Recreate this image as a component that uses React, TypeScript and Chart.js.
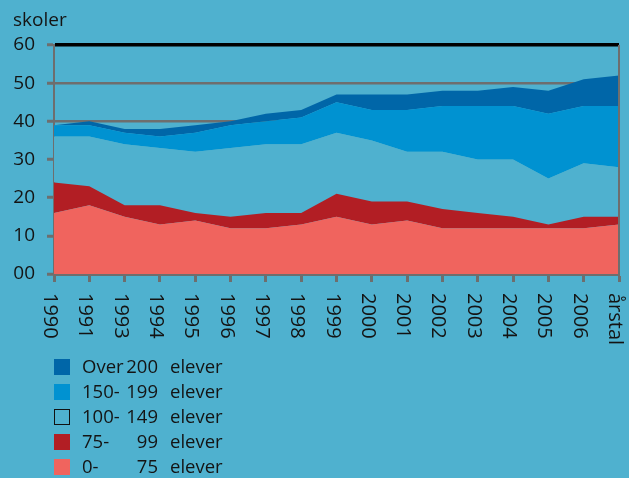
import React, { useEffect, useRef } from 'react';
import { Chart, registerables } from 'chart.js';

Chart.register(...registerables);

// ---- data ----
const categories = ['1990', '1991', '1993', '1994', '1995', '1996', '1997', '1998', '1999', '2000', '2001', '2002', '2003', '2004', '2005', '2006', 'årstal'];
const s0to75 = [16, 18, 15, 13, 14, 12, 12, 13, 15, 13, 14, 12, 12, 12, 12, 12, 13];
const s75to99 = [8, 5, 3, 5, 2, 3, 4, 3, 6, 6, 5, 5, 4, 3, 1, 3, 2];
const s100to149 = [12, 13, 16, 15, 16, 18, 18, 18, 16, 16, 13, 15, 14, 15, 12, 14, 13];
const s150to199 = [3, 3, 3, 3, 5, 6, 6, 7, 8, 8, 11, 12, 14, 14, 17, 15, 16];
const sOver200 = [0, 1, 1, 2, 2, 1, 2, 2, 2, 4, 4, 4, 4, 5, 6, 7, 8];
const yTickLabels: Record<number, string> = { 0: '00', 10: '10', 20: '20', 30: '30', 40: '40', 50: '50', 60: '60' };
const yAxisTitle = 'skoler';

const legendFrom = ['Over', '150-', '100-', '75-', '0-'];
const legendTo = ['200', '199', '149', '99', '75'];
const legendUnit = 'elever';

// ---- styles ----
const BG = '#4fb1cf';
const C_SALMON = '#f0645e';
const C_RED = '#b21e24';
const C_MID = '#0092d1';
const C_DARK = '#0066a8';
const GRAY = '#6e6e6e';
const TEXT = '#141414';
const FONT = '"Open Sans", "Noto Sans", sans-serif';

const legendColors = [C_DARK, C_MID, 'transparent', C_RED, C_SALMON];

export default function App() {
  const canvasRef = useRef<HTMLCanvasElement | null>(null);

  useEffect(() => {
    const canvas = canvasRef.current;
    if (!canvas) return;

    const xLabelPlugin = {
      id: 'xLabelPlugin',
      afterDatasetsDraw(chart: any) {
        const ctx = chart.ctx;
        const area = chart.chartArea;
        // right frame line on top of fills
        ctx.save();
        ctx.strokeStyle = GRAY;
        ctx.lineWidth = 2;
        ctx.beginPath();
        ctx.moveTo(area.right, area.top);
        ctx.lineTo(area.right, area.bottom);
        ctx.stroke();
        ctx.restore();
      },
      afterDraw(chart: any) {
        const ctx = chart.ctx;
        const xs = chart.scales.x;
        const labels = chart.data.labels as string[];
        ctx.save();
        ctx.fillStyle = TEXT;
        ctx.font = '20px ' + FONT;
        ctx.textAlign = 'left';
        ctx.textBaseline = 'alphabetic';
        labels.forEach((lab, i) => {
          const x = xs.getPixelForValue(i);
          ctx.save();
          ctx.translate(x, chart.chartArea.bottom + 19);
          ctx.rotate(Math.PI / 2);
          ctx.fillText(lab, 0, 10);
          ctx.restore();
        });
        ctx.restore();
      },
    };

    const chart = new Chart(canvas, {
      type: 'line',
      data: {
        labels: categories,
        datasets: [
          { label: '0- 75 elever', data: s0to75, backgroundColor: C_SALMON, fill: 'origin' },
          { label: '75- 99 elever', data: s75to99, backgroundColor: C_RED, fill: '-1' },
          { label: '100- 149 elever', data: s100to149, backgroundColor: BG, fill: '-1' },
          { label: '150- 199 elever', data: s150to199, backgroundColor: C_MID, fill: '-1' },
          { label: 'Over 200 elever', data: sOver200, backgroundColor: C_DARK, fill: '-1' },
        ].map((d) => ({ ...d, borderWidth: 0, borderColor: 'transparent', pointRadius: 0, tension: 0 })),
      },
      options: {
        animation: false,
        responsive: false,
        maintainAspectRatio: false,
        layout: { padding: { top: 45, left: 0, right: 10, bottom: 196 } },
        plugins: { legend: { display: false }, tooltip: { enabled: false } },
        scales: {
          x: {
            type: 'category',
            offset: false,
            grid: {
              drawOnChartArea: false,
              drawTicks: true,
              tickLength: 8,
              tickWidth: 3,
              tickColor: GRAY,
            },
            border: { display: true, color: GRAY, width: 3 },
            ticks: { display: false },
            afterFit: (scale: any) => {
              scale.height = 8;
            },
          },
          y: {
            stacked: true,
            min: 0,
            max: 60,
            grid: {
              color: (ctx: any) => {
                const v = ctx.tick && ctx.tick.value;
                if (v === 60) return '#000000';
                if (v === 40 || v === 50) return GRAY;
                return 'rgba(0,0,0,0)';
              },
              lineWidth: (ctx: any) => {
                const v = ctx.tick && ctx.tick.value;
                return v === 60 ? 3.5 : 2.5;
              },
              tickColor: GRAY,
              tickLength: 7,
              tickWidth: 3,
            },
            border: { display: true, color: GRAY, width: 2 },
            ticks: {
              stepSize: 10,
              padding: 12,
              color: TEXT,
              font: { family: FONT, size: 19 },
              callback: (v: any) => yTickLabels[Number(v)] ?? String(v),
            },
            afterFit: (scale: any) => {
              scale.width = 54;
            },
          },
        },
      },
      plugins: [xLabelPlugin],
    });

    return () => chart.destroy();
  }, []);

  const legendRowTop = (i: number) => 353 + i * 25;

  return (
    <div
      style={{
        position: 'fixed',
        left: 0,
        top: 0,
        width: 629,
        height: 478,
        background: BG,
        overflow: 'hidden',
        fontFamily: FONT,
        color: TEXT,
      }}
    >
      <canvas ref={canvasRef} width={629} height={478} style={{ position: 'absolute', left: 0, top: 0, width: 629, height: 478 }} />
      <div
        style={{
          position: 'absolute',
          left: 13,
          top: 10,
          fontSize: 19,
          lineHeight: '19px',
          whiteSpace: 'nowrap',
        }}
      >
        {yAxisTitle}
      </div>
      {legendFrom.map((from, i) => (
        <div
          key={i}
          style={{
            position: 'absolute',
            left: 0,
            top: legendRowTop(i),
            width: 300,
            height: 25,
            fontSize: 18.5,
            lineHeight: '25px',
            whiteSpace: 'nowrap',
          }}
        >
          <div
            style={{
              position: 'absolute',
              left: 54,
              top: 6,
              width: 16,
              height: 16,
              boxSizing: 'border-box',
              background: legendColors[i],
              border: legendColors[i] === 'transparent' ? '1.5px solid #111' : 'none',
            }}
          />
          <span style={{ position: 'absolute', left: 82, top: 0 }}>{from}</span>
          <span style={{ position: 'absolute', left: 0, width: 158, top: 0, textAlign: 'right' }}>{legendTo[i]}</span>
          <span style={{ position: 'absolute', left: 170, top: 0 }}>{legendUnit}</span>
        </div>
      ))}
    </div>
  );
}
